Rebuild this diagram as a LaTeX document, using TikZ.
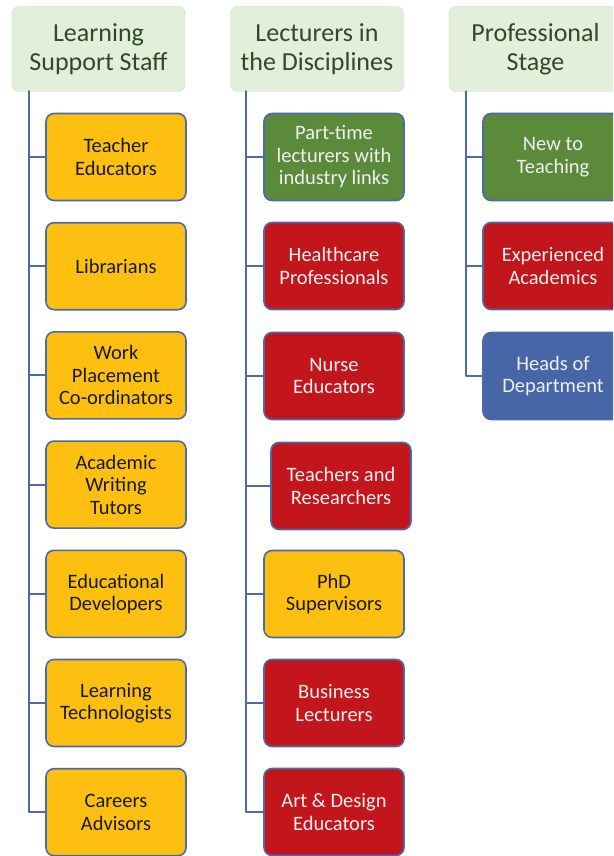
\documentclass[tikz,border=0pt]{standalone}
\usepackage{fontspec}
\setmainfont{Carlito}
\definecolor{hdfill}{HTML}{E2EFDA}
\definecolor{hdtext}{HTML}{2F4A25}
\definecolor{ylw}{HTML}{FDC010}
\definecolor{grn}{HTML}{5C8A3B}
\definecolor{rd}{HTML}{C3161C}
\definecolor{blu}{HTML}{4766A8}
\definecolor{edge}{HTML}{4A6AAB}
\begin{document}
\begin{tikzpicture}[x=1pt,y=-1pt,line join=round,line cap=round,
	head/.style={draw=hdfill!80!gray,fill=hdfill,rounded corners=7pt,minimum width=173pt,minimum height=85pt,
		align=center,text=hdtext,font=\fontsize{26}{28.5}\selectfont},
	item/.style={draw=edge,line width=1.6pt,fill=#1,rounded corners=8pt,minimum width=140pt,minimum height=87pt,
		align=center,text=white!94!black,font=\fontsize{20.5}{22.5}\selectfont},
	conn/.style={draw=edge,line width=2pt}]
	\clip (0,0) rectangle (613,856);
	%headers
	\node[head] (h1) at (98.5,49) {Learning\\Support Staff};
	\node[head] (h2) at (317,49) {Lecturers in\\the Disciplines};
	\node[head] (h3) at (535.5,49) {Professional\\Stage};
	%learning support staff
	\foreach \t [count=\i] in {{Teacher\\Educators},{Librarians},{Work\\Placement\\Co-ordinators},
		{Academic\\Writing\\Tutors},{Educational\\Developers},{Learning\\Technologists},{Careers\\Advisors}}
		\node[item=ylw,text=black!90] (a\i) at (116,{157+109.2*(\i-1)}) {\t};
	%lecturers in the disciplines
	\node[item=grn] (b1) at (334,157) {Part-time\\lecturers with\\industry links};
	\node[item=rd] (b2) at (334,266) {Healthcare\\Professionals};
	\node[item=rd] (b3) at (334,376) {Nurse\\Educators};
	\node[item=rd] (b4) at (341,486) {Teachers and\\Researchers};
	\node[item=ylw,text=black!90] (b5) at (334,594) {PhD\\Supervisors};
	\node[item=rd] (b6) at (334,703) {Business\\Lecturers};
	\node[item=rd] (b7) at (334,812) {Art \& Design\\Educators};
	%professional stage
	\node[item=grn] (c1) at (553,157) {New to\\Teaching};
	\node[item=rd] (c2) at (553,266) {Experienced\\Academics};
	\node[item=blu] (c3) at (553,376) {Heads of\\Department};
	%connectors
	\foreach \i in {1,...,7}{
		\path[conn] (h1.south west) ++(17,0) |- (a\i.west);
		\path[conn] (h2.south west) ++(16,0) |- (b\i.west);
	}
	\foreach \i in {1,2,3}
		\path[conn] (h3.south west) ++(17,0) |- (c\i.west);
\end{tikzpicture}
\end{document}
